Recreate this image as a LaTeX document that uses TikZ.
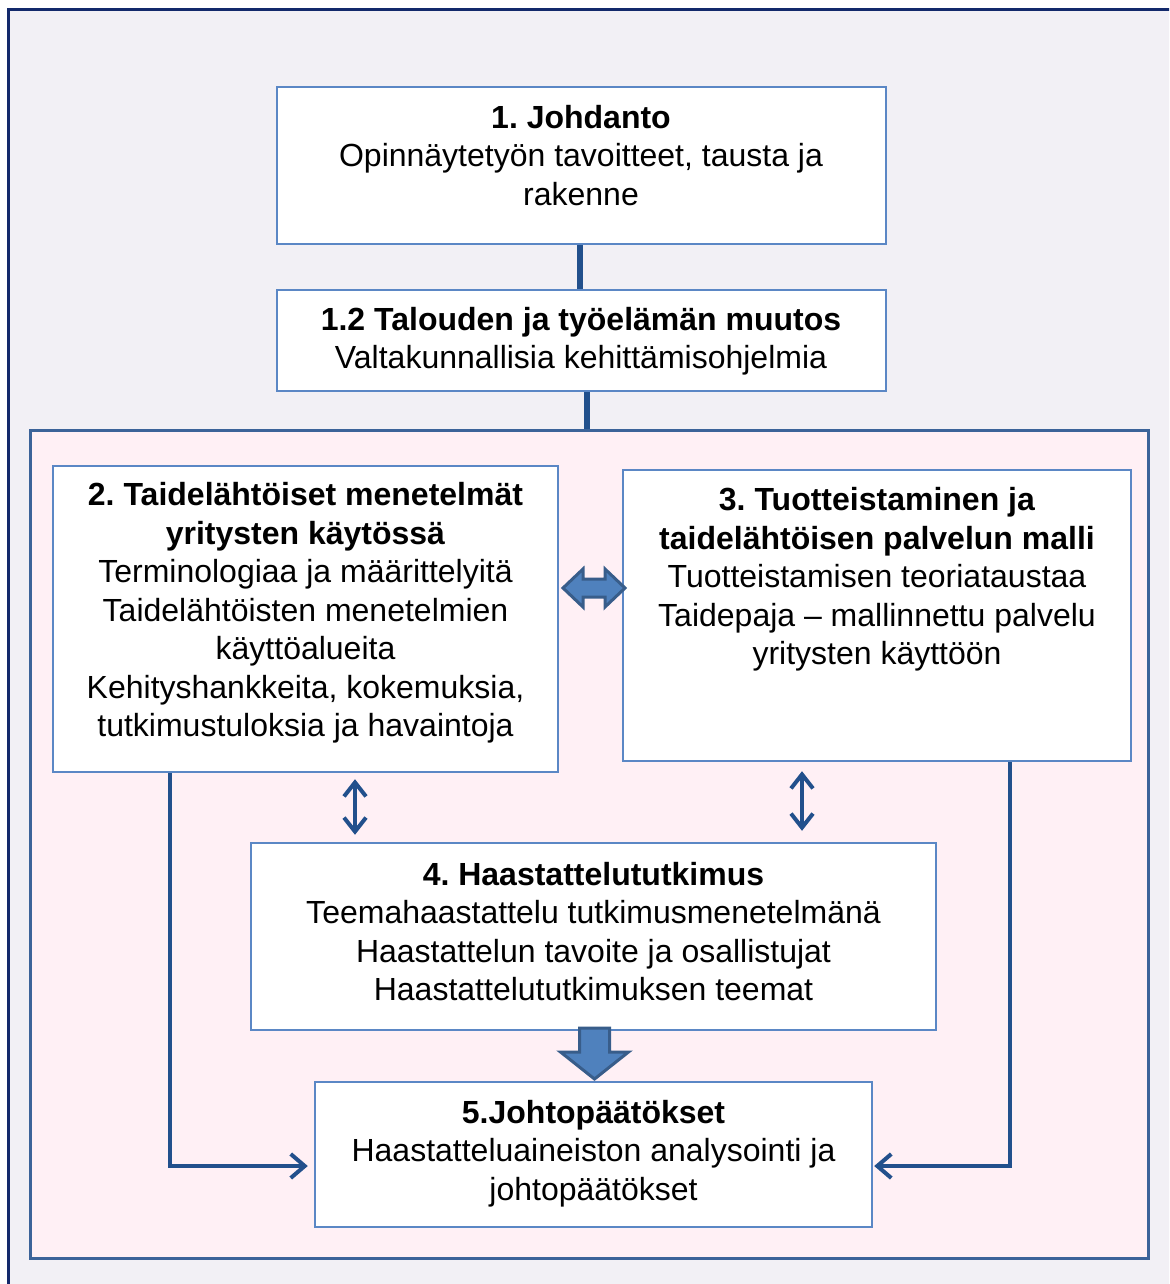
\documentclass[tikz,border=0pt]{standalone}
\usepackage{fontspec}
\setmainfont{Liberation Sans}
\frenchspacing
\usetikzlibrary{arrows.meta,fit,calc}
\definecolor{frame}{HTML}{13296B}
\definecolor{bgc}{HTML}{F2F0F5}
\definecolor{pinkc}{HTML}{FFF0F5}
\definecolor{pinkb}{HTML}{3C6399}
\definecolor{boxb}{HTML}{5B87C5}
\definecolor{conn}{HTML}{22508C}
\definecolor{blockf}{HTML}{4F81BD}
\definecolor{blockb}{HTML}{385D8A}
\tikzset{
  box/.style={draw=boxb, line width=1.2pt, fill=white, inner sep=0pt},
  txt/.style={align=center, inner sep=0pt, font=\fontsize{16}{19.25}\selectfont},
  thickconn/.style={draw=conn, line width=2.6pt},
  elbow/.style={draw=conn, line width=2pt, -{Straight Barb[length=7pt,width=12pt,line width=2pt]}},
  dbl/.style={draw=conn, line width=2pt, {Straight Barb[length=7pt,width=11pt,line width=2pt]}-{Straight Barb[length=7pt,width=11pt,line width=2pt]}},
  blockarrow/.style={draw=blockb, line width=1.5pt, fill=blockf, line join=miter}
}
\begin{document}
\begin{tikzpicture}[x=0.5pt,y=-0.5pt]
\useasboundingbox (0,0) rectangle (1169,1284);
\fill[white] (0,0) rectangle (1169,1284);
\begin{scope}
\clip (0,0) rectangle (1169,1284);
\draw[frame, line width=1.5pt, fill=bgc] (8,10) rectangle (1220,1330);
\end{scope}
% pink region
\node[draw=pinkb, line width=1.5pt, fill=pinkc, inner sep=0pt, fit={(30,430) (1148,1258)}] (pink) {};
% boxes
\node[box, fit={(277,87) (886,244)}] (b1) {};
\node[box, fit={(277,290) (886,391)}] (b12) {};
\node[box, fit={(53,466) (558,772)}] (b2) {};
\node[box, fit={(623,470) (1131,761)}] (b3) {};
\node[box, fit={(251,843) (936,1030)}] (b4) {};
\node[box, fit={(315,1082) (872,1227)}] (b5) {};
% texts
\node[txt] (t1) at (581,155.5) {\textbf{1. Johdanto}\\Opinnäytetyön tavoitteet, tausta ja\\rakenne};
\node[txt] (t12) at (581,341) {\textbf{1.2 Talouden ja työelämän muutos}\\Valtakunnallisia kehittämisohjelmia};
\node[txt] (t2) at (305.5,613) {\textbf{2. Taidelähtöiset menetelmät}\\\textbf{yritysten käytössä}\\Terminologiaa ja määrittelyitä\\Taidelähtöisten menetelmien\\käyttöalueita\\Kehityshankkeita, kokemuksia,\\tutkimustuloksia ja havaintoja};
\node[txt] (t3) at (877,579.5) {\textbf{3. Tuotteistaminen ja}\\\textbf{taidelähtöisen palvelun malli}\\Tuotteistamisen teoriataustaa\\Taidepaja – mallinnettu palvelu\\yritysten käyttöön};
\node[txt] (t4) at (593.5,931.5) {\textbf{4. Haastattelututkimus}\\Teemahaastattelu tutkimusmenetelmänä\\Haastattelun tavoite ja osallistujat\\Haastattelututkimuksen teemat};
\node[txt] (t5) at (593.5,1153.5) {\textbf{5.Johtopäätökset}\\Haastatteluaineiston analysointi ja\\johtopäätökset};
% connectors
\coordinate (c1) at (580,0);
\coordinate (c2) at (587,0);
\draw[thickconn] (b1.south -| c1) -- (b12.north -| c1);
\draw[thickconn] (b12.south -| c2) -- (pink.north -| c2);
\coordinate (lc) at (170,1166);
\coordinate (rc) at (1010,1166);
\draw[elbow, shorten >=3pt] (b2.south -| lc) |- (b5.west |- lc);
\draw[elbow, shorten >=0.5pt] (b3.south -| rc) |- (b5.east |- rc);
\coordinate (d1) at (355,0);
\coordinate (d2) at (802,0);
\draw[dbl, shorten <=3pt, shorten >=3.5pt] (b2.south -| d1) -- (b4.north -| d1);
\draw[dbl, shorten <=4.5pt, shorten >=5.5pt] (b3.south -| d2) -- (b4.north -| d2);
% block double arrow
\coordinate (da) at (594,588);
\draw[blockarrow] ($(da)+(-31,0)$) -- ++(20,-19) -- ++(0,10) -- ++(22,0) -- ++(0,-10) -- ++(20,19) -- ++(-20,19) -- ++(0,-10) -- ++(-22,0) -- ++(0,10) -- cycle;
% block down arrow
\coordinate (dn) at (594.5,1028);
\draw[blockarrow] ($(dn)+(-15,0)$) -- ++(30,0) -- ++(0,24) -- ++(19,0) -- ++(-34,27) -- ++(-34,-27) -- ++(19,0) -- cycle;
\end{tikzpicture}
\end{document}
